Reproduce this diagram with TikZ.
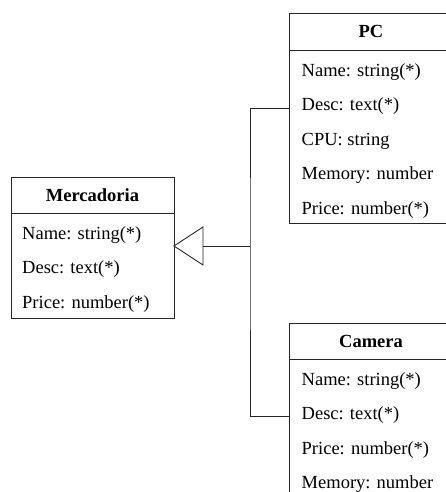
\documentclass[tikz,border=0pt]{standalone}
\usepackage{fontspec}
\setmainfont{Liberation Serif}
\begin{document}
\begin{tikzpicture}[x=1pt,y=-1pt,
  cls/.style={draw=black!85, line width=0.9pt, minimum width=163pt, inner sep=0pt, fill=white},
  title/.style={font=\fontsize{18.5}{20}\selectfont\bfseries, inner sep=0pt},
  attr/.style={font=\fontsize{18.5}{20}\selectfont, anchor=west, inner sep=0pt, yshift=-1.5pt},
  link/.style={draw=black!85, line width=0.9pt}]
\useasboundingbox (0,0) rectangle (446,492);
\clip (0,0) rectangle (446,492);

% superclass
\node[cls, minimum height=141pt] (merc) at (92.5,247.5) {};
\draw[link] (11,213) -- (174,213);
\node[title] (mercT) at (92.5,195) {Mercadoria};
\node[attr] (m1) at (22,233.5) {Name: string(*)};
\node[attr] (m2) at (22,268) {Desc: text(*)};
\node[attr] (m3) at (22,302.5) {Price: number(*)};

% subclass PC
\node[cls, minimum height=210pt] (pc) at (371,118) {};
\draw[link] (289.5,50) -- (452.5,50);
\node[title] (pcT) at (371,31.5) {PC};
\node[attr] (p1) at (301.5,70.5) {Name: string(*)};
\node[attr] (p2) at (301.5,105) {Desc: text(*)};
\node[attr] (p3) at (301.5,139.5) {CPU: string};
\node[attr] (p4) at (301.5,174) {Memory: number};
\node[attr] (p5) at (301.5,208.5) {Price: number(*)};

% subclass Camera
\node[cls, minimum height=190pt] (cam) at (371,418) {};
\draw[link] (289.5,359) -- (452.5,359);
\node[title] (camT) at (371,341) {Camera};
\node[attr] (c1) at (301.5,379.5) {Name: string(*)};
\node[attr] (c2) at (301.5,414) {Desc: text(*)};
\node[attr] (c3) at (301.5,448.5) {Price: number(*)};
\node[attr] (c4) at (301.5,483) {Memory: number};

% generalization arrow
\coordinate (tip) at (174,246);
\coordinate (base) at (203,246);
\coordinate (join) at (250,246);
\coordinate (pcin) at (289.5,108);
\coordinate (camin) at (289.5,416);
\draw[link, line join=miter] (tip) -- (203,227) -- (203,265) -- cycle;
\draw[link] (base) -- (join);
\draw[link] (pcin) -| (join) |- (camin);
\end{tikzpicture}
\end{document}
